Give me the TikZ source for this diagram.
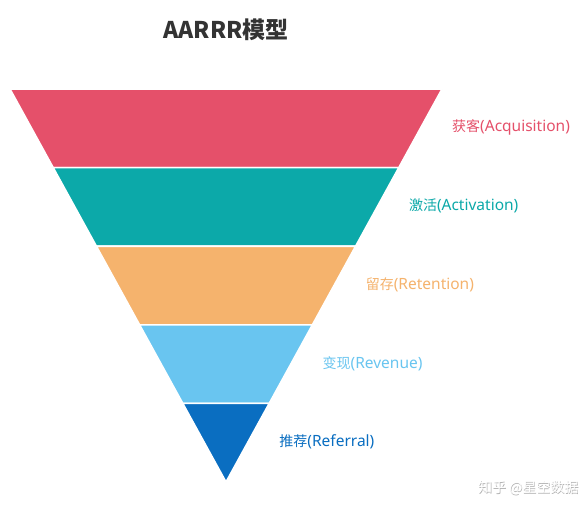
\documentclass[tikz,border=0pt]{standalone}
\usepackage{fontspec}
\setmainfont{Noto Sans}
\newfontfamily\cjkf{Noto Sans CJK SC}
\newcommand{\cj}[1]{{\fontsize{14}{16}\cjkf #1}}
\definecolor{cA}{HTML}{E5506A}
\definecolor{cB}{HTML}{0CA9A9}
\definecolor{cC}{HTML}{F5B36D}
\definecolor{cD}{HTML}{69C5F0}
\definecolor{cE}{HTML}{0A6EC1}
\definecolor{ttl}{HTML}{333333}
\begin{document}
\begin{tikzpicture}[x=1pt,y=-1pt,
  band/.style={draw=white,line width=1.6pt,line join=miter},
  lbl/.style={anchor=west,inner sep=0pt,font=\fontsize{15.5}{17}\selectfont}]
\useasboundingbox (0,0) rectangle (586,512);
\fill[white] (0,0) rectangle (586,512);
\node[font=\fontsize{23}{26}\selectfont\cjkf\bfseries,text=ttl] (title) at (226,30) {AARRR模型};
\fill[cA,band] (10,89) -- (442,89) -- (398.8,167.6) -- (53.2,167.6) -- cycle;
\fill[cB,band] (53.2,167.6) -- (398.8,167.6) -- (355.6,246.2) -- (96.4,246.2) -- cycle;
\fill[cC,band] (96.4,246.2) -- (355.6,246.2) -- (312.4,324.8) -- (139.6,324.8) -- cycle;
\fill[cD,band] (139.6,324.8) -- (312.4,324.8) -- (269.2,403.4) -- (182.8,403.4) -- cycle;
\fill[cE,band] (182.8,403.4) -- (269.2,403.4) -- (226,482) -- cycle;
\node[lbl,text=cA] (l1) at (452,127.5) {\cj{获客}(Acquisition)};
\node[lbl,text=cB] (l2) at (408.8,206.1) {\cj{激活}(Activation)};
\node[lbl,text=cC] (l3) at (365.6,284.7) {\cj{留存}(Retention)};
\node[lbl,text=cD] (l4) at (322.4,363.3) {\cj{变现}(Revenue)};
\node[lbl,text=cE] (l5) at (279.2,441.9) {\cj{推荐}(Referral)};
\node[anchor=west,inner sep=0pt,font=\fontsize{14}{16}\selectfont\cjkf,text=black!30] (wm0) at (478.6,488.6) {知乎 @星空数据};
\node[anchor=west,inner sep=0pt,font=\fontsize{14}{16}\selectfont\cjkf,text=white] (wm) at (478,488) {知乎 @星空数据};
\end{tikzpicture}
\end{document}
